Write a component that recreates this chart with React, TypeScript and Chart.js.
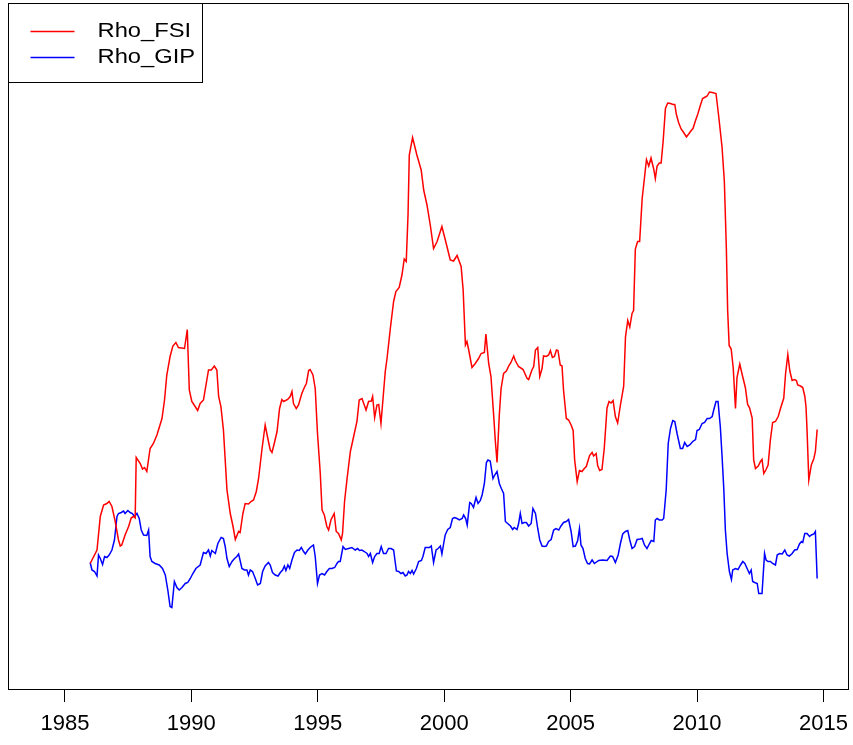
import React, { useEffect, useRef } from "react";
import { Chart, registerables } from "chart.js";

Chart.register(...registerables);

const tickYears = [1985, 1990, 1995, 2000, 2005, 2010, 2015];
const seriesNames = ["Rho_FSI", "Rho_GIP"];
const seriesColors = ["#ff0000", "#0000ff"];

const fsiYears = [
  1986.00, 1986.27, 1986.40, 1986.53, 1986.66, 1986.75, 1986.86, 1986.99, 1987.12, 1987.19,
  1987.25, 1987.38, 1987.52, 1987.62, 1987.71, 1987.78, 1987.82, 1987.98, 1988.07, 1988.15,
  1988.24, 1988.37, 1988.50, 1988.64, 1988.84, 1988.94, 1989.03, 1989.16, 1989.27, 1989.39,
  1989.49, 1989.73, 1989.84, 1989.92, 1990.02, 1990.15, 1990.25, 1990.35, 1990.48, 1990.68,
  1990.79, 1990.91, 1991.01, 1991.08, 1991.17, 1991.27, 1991.41, 1991.54, 1991.65, 1991.74,
  1991.87, 1991.93, 1992.04, 1992.13, 1992.26, 1992.36, 1992.46, 1992.57, 1992.66, 1992.79,
  1992.92, 1993.01, 1993.12, 1993.19, 1993.28, 1993.39, 1993.49, 1993.58, 1993.65, 1993.81,
  1993.91, 1993.98, 1994.04, 1994.15, 1994.24, 1994.37, 1994.47, 1994.55, 1994.64, 1994.70,
  1994.81, 1994.90, 1994.99, 1995.10, 1995.17, 1995.26, 1995.36, 1995.43, 1995.52, 1995.65,
  1995.73, 1995.82, 1995.93, 1995.98, 1996.06, 1996.16, 1996.29, 1996.42, 1996.55, 1996.64,
  1996.75, 1996.91, 1997.01, 1997.12, 1997.17, 1997.25, 1997.34, 1997.41, 1997.50, 1997.67,
  1997.74, 1997.87, 1998.00, 1998.09, 1998.22, 1998.33, 1998.42, 1998.50, 1998.57, 1998.62,
  1998.75, 1998.92, 1999.09, 1999.19, 1999.32, 1999.45, 1999.58, 1999.72, 1999.91, 2000.11,
  2000.24, 2000.37, 2000.51, 2000.67, 2000.75, 2000.84, 2000.90, 2000.97, 2001.10, 2001.23,
  2001.36, 2001.46, 2001.59, 2001.65, 2001.76, 2001.85, 2001.96, 2002.02, 2002.09, 2002.18,
  2002.25, 2002.35, 2002.46, 2002.55, 2002.64, 2002.75, 2002.81, 2002.94, 2003.12, 2003.28,
  2003.34, 2003.47, 2003.54, 2003.61, 2003.70, 2003.78, 2003.87, 2003.93, 2004.04, 2004.13,
  2004.20, 2004.28, 2004.36, 2004.44, 2004.50, 2004.59, 2004.66, 2004.72, 2004.83, 2004.92,
  2005.02, 2005.10, 2005.16, 2005.26, 2005.35, 2005.45, 2005.54, 2005.62, 2005.75, 2005.85,
  2005.91, 2006.01, 2006.07, 2006.15, 2006.24, 2006.33, 2006.44, 2006.52, 2006.60, 2006.68,
  2006.77, 2006.86, 2006.97, 2007.10, 2007.17, 2007.26, 2007.34, 2007.43, 2007.49, 2007.56,
  2007.65, 2007.73, 2007.83, 2007.92, 2008.00, 2008.09, 2008.18, 2008.29, 2008.35, 2008.42,
  2008.51, 2008.58, 2008.66, 2008.75, 2008.84, 2008.95, 2009.05, 2009.12, 2009.18, 2009.27,
  2009.37, 2009.47, 2009.58, 2009.67, 2009.77, 2009.84, 2009.94, 2010.03, 2010.13, 2010.22,
  2010.33, 2010.40, 2010.49, 2010.60, 2010.75, 2010.86, 2010.99, 2011.08, 2011.16, 2011.21,
  2011.27, 2011.35, 2011.43, 2011.52, 2011.58, 2011.69, 2011.78, 2011.91, 2012.00, 2012.08,
  2012.18, 2012.24, 2012.31, 2012.42, 2012.51, 2012.57, 2012.64, 2012.73, 2012.81, 2012.90,
  2012.99, 2013.10, 2013.21, 2013.30, 2013.43, 2013.50, 2013.59, 2013.67, 2013.76, 2013.85,
  2013.93, 2013.98, 2014.09, 2014.18, 2014.26, 2014.31, 2014.35, 2014.42, 2014.52, 2014.62,
  2014.68, 2014.75,
];
const fsiValues = [
  -0.121, -0.094, -0.027, -0.004, -0.001, 0.003, -0.007, -0.037, -0.074, -0.086,
  -0.084, -0.064, -0.047, -0.030, -0.027, -0.030, 0.091, 0.079, 0.068, 0.071,
  0.063, 0.109, 0.119, 0.136, 0.169, 0.206, 0.256, 0.293, 0.314, 0.321,
  0.311, 0.309, 0.347, 0.226, 0.203, 0.193, 0.185, 0.199, 0.206, 0.266,
  0.266, 0.274, 0.266, 0.213, 0.193, 0.146, 0.026, -0.021, -0.047, -0.073,
  -0.057, -0.059, -0.021, -0.001, -0.002, 0.003, 0.006, 0.023, 0.049, 0.106,
  0.156, 0.133, 0.106, 0.101, 0.119, 0.143, 0.189, 0.207, 0.203, 0.207,
  0.213, 0.223, 0.199, 0.189, 0.196, 0.219, 0.231, 0.239, 0.265, 0.267,
  0.256, 0.229, 0.139, 0.059, -0.014, -0.024, -0.047, -0.054, -0.034, -0.021,
  -0.057, -0.061, -0.074, -0.061, 0.003, 0.049, 0.103, 0.133, 0.163, 0.206,
  0.209, 0.186, 0.203, 0.204, 0.213, 0.171, 0.196, 0.197, 0.159, 0.263,
  0.289, 0.349, 0.403, 0.423, 0.431, 0.456, 0.488, 0.483, 0.576, 0.696,
  0.731, 0.696, 0.666, 0.626, 0.596, 0.556, 0.509, 0.523, 0.553, 0.513,
  0.486, 0.484, 0.495, 0.473, 0.426, 0.316, 0.323, 0.306, 0.271, 0.279,
  0.289, 0.299, 0.301, 0.338, 0.279, 0.253, 0.173, 0.126, 0.081, 0.176,
  0.229, 0.259, 0.264, 0.274, 0.281, 0.294, 0.285, 0.273, 0.267, 0.249,
  0.247, 0.266, 0.273, 0.306, 0.311, 0.253, 0.269, 0.294, 0.293, 0.296,
  0.305, 0.291, 0.293, 0.306, 0.305, 0.276, 0.274, 0.226, 0.169, 0.166,
  0.156, 0.145, 0.086, 0.043, 0.065, 0.063, 0.069, 0.073, 0.095, 0.101,
  0.094, 0.099, 0.075, 0.065, 0.067, 0.109, 0.190, 0.203, 0.200, 0.205,
  0.173, 0.160, 0.196, 0.234, 0.332, 0.365, 0.352, 0.379, 0.385, 0.508,
  0.523, 0.523, 0.609, 0.650, 0.687, 0.674, 0.690, 0.667, 0.649, 0.674,
  0.680, 0.680, 0.724, 0.789, 0.800, 0.799, 0.797, 0.797, 0.778, 0.761,
  0.748, 0.741, 0.732, 0.738, 0.745, 0.749, 0.765, 0.778, 0.795, 0.809,
  0.812, 0.814, 0.822, 0.821, 0.819, 0.772, 0.711, 0.643, 0.508, 0.386,
  0.315, 0.308, 0.271, 0.189, 0.251, 0.278, 0.258, 0.231, 0.197, 0.190,
  0.170, 0.086, 0.069, 0.074, 0.083, 0.087, 0.059, 0.067, 0.076, 0.126,
  0.161, 0.163, 0.173, 0.189, 0.210, 0.258, 0.297, 0.264, 0.245, 0.247,
  0.245, 0.236, 0.234, 0.231, 0.214, 0.192, 0.146, 0.046, 0.076, 0.089,
  0.103, 0.147,
];

const gipYears = [
  1986.00, 1986.07, 1986.17, 1986.27, 1986.33, 1986.40, 1986.49, 1986.57, 1986.66, 1986.75,
  1986.86, 1986.96, 1987.06, 1987.12, 1987.23, 1987.32, 1987.38, 1987.49, 1987.58, 1987.67,
  1987.75, 1987.85, 1987.94, 1988.02, 1988.11, 1988.24, 1988.31, 1988.37, 1988.44, 1988.57,
  1988.73, 1988.86, 1988.97, 1989.07, 1989.16, 1989.23, 1989.33, 1989.43, 1989.52, 1989.63,
  1989.76, 1989.86, 1989.96, 1990.05, 1990.18, 1990.35, 1990.48, 1990.58, 1990.68, 1990.75,
  1990.81, 1990.95, 1991.05, 1991.18, 1991.27, 1991.34, 1991.41, 1991.50, 1991.61, 1991.71,
  1991.80, 1991.87, 1991.93, 1992.00, 1992.10, 1992.20, 1992.26, 1992.33, 1992.42, 1992.53,
  1992.62, 1992.73, 1992.82, 1992.92, 1993.05, 1993.12, 1993.21, 1993.32, 1993.43, 1993.52,
  1993.61, 1993.68, 1993.74, 1993.82, 1993.89, 1993.98, 1994.08, 1994.18, 1994.27, 1994.35,
  1994.44, 1994.51, 1994.61, 1994.70, 1994.77, 1994.83, 1994.90, 1994.99, 1995.07, 1995.17,
  1995.27, 1995.36, 1995.46, 1995.56, 1995.67, 1995.76, 1995.82, 1995.89, 1996.00, 1996.09,
  1996.22, 1996.35, 1996.48, 1996.58, 1996.65, 1996.75, 1996.84, 1996.95, 1997.01, 1997.08,
  1997.17, 1997.25, 1997.34, 1997.43, 1997.51, 1997.60, 1997.70, 1997.80, 1997.90, 1998.00,
  1998.11, 1998.20, 1998.29, 1998.37, 1998.46, 1998.53, 1998.59, 1998.66, 1998.73, 1998.79,
  1998.90, 1998.99, 1999.10, 1999.16, 1999.25, 1999.34, 1999.42, 1999.49, 1999.58, 1999.68,
  1999.76, 1999.85, 1999.91, 1999.98, 2000.04, 2000.14, 2000.24, 2000.33, 2000.41, 2000.51,
  2000.60, 2000.71, 2000.77, 2000.85, 2000.91, 2001.01, 2001.07, 2001.16, 2001.26, 2001.34,
  2001.43, 2001.50, 2001.59, 2001.67, 2001.73, 2001.82, 2001.93, 2002.00, 2002.09, 2002.18,
  2002.26, 2002.35, 2002.42, 2002.51, 2002.62, 2002.71, 2002.77, 2002.88, 2002.94, 2003.01,
  2003.08, 2003.17, 2003.25, 2003.34, 2003.44, 2003.51, 2003.61, 2003.70, 2003.78, 2003.87,
  2003.96, 2004.04, 2004.13, 2004.23, 2004.33, 2004.42, 2004.53, 2004.62, 2004.72, 2004.83,
  2004.92, 2005.02, 2005.10, 2005.19, 2005.28, 2005.35, 2005.41, 2005.49, 2005.58, 2005.67,
  2005.75, 2005.85, 2005.94, 2006.11, 2006.27, 2006.44, 2006.57, 2006.66, 2006.77, 2006.88,
  2006.97, 2007.06, 2007.17, 2007.26, 2007.34, 2007.43, 2007.53, 2007.63, 2007.76, 2007.83,
  2007.92, 2008.02, 2008.12, 2008.19, 2008.29, 2008.35, 2008.42, 2008.51, 2008.62, 2008.68,
  2008.78, 2008.86, 2008.95, 2009.04, 2009.12, 2009.21, 2009.34, 2009.43, 2009.51, 2009.61,
  2009.71, 2009.83, 2009.94, 2010.00, 2010.09, 2010.20, 2010.30, 2010.40, 2010.49, 2010.60,
  2010.66, 2010.75, 2010.83, 2010.92, 2010.99, 2011.06, 2011.12, 2011.19, 2011.28, 2011.36,
  2011.41, 2011.52, 2011.62, 2011.72, 2011.81, 2011.89, 2011.98, 2012.07, 2012.14, 2012.20,
  2012.28, 2012.38, 2012.44, 2012.57, 2012.67, 2012.73, 2012.81, 2012.90, 2012.99, 2013.10,
  2013.17, 2013.26, 2013.37, 2013.47, 2013.56, 2013.65, 2013.76, 2013.86, 2013.96, 2014.05,
  2014.13, 2014.18, 2014.26, 2014.35, 2014.45, 2014.52, 2014.62, 2014.68, 2014.75,
];
const gipValues = [
  -0.119, -0.134, -0.137, -0.146, -0.104, -0.111, -0.123, -0.107, -0.109, -0.104,
  -0.094, -0.074, -0.027, -0.021, -0.019, -0.016, -0.021, -0.015, -0.019, -0.021,
  -0.027, -0.021, -0.031, -0.054, -0.064, -0.065, -0.054, -0.107, -0.117, -0.121,
  -0.124, -0.131, -0.144, -0.174, -0.207, -0.209, -0.157, -0.169, -0.174, -0.169,
  -0.161, -0.159, -0.151, -0.142, -0.131, -0.124, -0.099, -0.101, -0.094, -0.106,
  -0.095, -0.101, -0.081, -0.069, -0.071, -0.087, -0.111, -0.127, -0.117, -0.111,
  -0.107, -0.102, -0.115, -0.131, -0.134, -0.134, -0.144, -0.134, -0.137, -0.151,
  -0.164, -0.161, -0.137, -0.126, -0.119, -0.124, -0.139, -0.144, -0.146, -0.139,
  -0.134, -0.126, -0.135, -0.124, -0.131, -0.114, -0.099, -0.094, -0.095, -0.089,
  -0.097, -0.102, -0.094, -0.089, -0.086, -0.084, -0.107, -0.161, -0.144, -0.141,
  -0.144, -0.137, -0.131, -0.131, -0.129, -0.121, -0.117, -0.117, -0.087, -0.093,
  -0.091, -0.089, -0.094, -0.091, -0.095, -0.094, -0.097, -0.101, -0.107, -0.101,
  -0.119, -0.107, -0.101, -0.101, -0.087, -0.101, -0.101, -0.091, -0.091, -0.094,
  -0.136, -0.137, -0.141, -0.139, -0.146, -0.144, -0.137, -0.141, -0.135, -0.142,
  -0.131, -0.117, -0.115, -0.107, -0.089, -0.089, -0.089, -0.086, -0.119, -0.094,
  -0.091, -0.086, -0.102, -0.081, -0.064, -0.053, -0.049, -0.031, -0.029, -0.031,
  -0.034, -0.031, -0.024, -0.031, -0.044, 0.001, -0.001, -0.009, 0.011, -0.001,
  0.005, 0.016, 0.039, 0.081, 0.086, 0.084, 0.049, 0.056, 0.063, 0.039,
  0.029, 0.019, -0.037, -0.041, -0.046, -0.053, -0.049, -0.053, -0.042, -0.021,
  -0.041, -0.039, -0.039, -0.046, -0.041, -0.011, -0.021, -0.051, -0.074, -0.086,
  -0.087, -0.086, -0.077, -0.073, -0.054, -0.051, -0.054, -0.046, -0.039, -0.037,
  -0.033, -0.057, -0.087, -0.086, -0.075, -0.051, -0.084, -0.091, -0.111, -0.121,
  -0.122, -0.114, -0.121, -0.115, -0.114, -0.115, -0.106, -0.107, -0.119, -0.104,
  -0.081, -0.062, -0.057, -0.055, -0.074, -0.091, -0.087, -0.073, -0.072, -0.071,
  -0.084, -0.091, -0.081, -0.075, -0.077, -0.034, -0.031, -0.034, -0.034, -0.031,
  0.026, 0.119, 0.149, 0.165, 0.163, 0.139, 0.109, 0.109, 0.121, 0.113,
  0.116, 0.123, 0.127, 0.145, 0.147, 0.159, 0.161, 0.169, 0.169, 0.173,
  0.186, 0.203, 0.203, 0.153, 0.093, 0.026, -0.054, -0.101, -0.137, -0.153,
  -0.134, -0.131, -0.133, -0.124, -0.117, -0.121, -0.131, -0.141, -0.134, -0.157,
  -0.159, -0.161, -0.181, -0.181, -0.101, -0.114, -0.117, -0.117, -0.121, -0.124,
  -0.104, -0.101, -0.102, -0.094, -0.104, -0.106, -0.101, -0.094, -0.093, -0.082,
  -0.077, -0.079, -0.061, -0.061, -0.067, -0.064, -0.062, -0.057, -0.151,
];

const yMin = -0.372;
const yMax = 1.0;
const xMin = 1982.75;
const xMax = 2015.97;

const FONT = "'Liberation Sans', Arial, Helvetica, sans-serif";

const boxPlugin = {
  id: "rbox",
  afterDraw(chart: any) {
    const { ctx, chartArea } = chart;
    ctx.save();
    ctx.strokeStyle = "#000";
    ctx.lineWidth = 1;
    ctx.strokeRect(
      Math.round(chartArea.left) + 0.5,
      Math.round(chartArea.top) + 0.5,
      Math.round(chartArea.right - chartArea.left),
      Math.round(chartArea.bottom - chartArea.top)
    );
    // legend box
    const lx = Math.round(chartArea.left) + 0.5;
    const ly = Math.round(chartArea.top) + 0.5;
    const lw = 194;
    const lh = 79;
    ctx.fillStyle = "#fff";
    ctx.fillRect(lx, ly, lw, lh);
    ctx.strokeRect(lx, ly, lw, lh);
    const rows = [28, 54];
    chart.data.datasets.forEach((ds: any, i: number) => {
      const y = ly + rows[i];
      ctx.strokeStyle = ds.borderColor;
      ctx.lineWidth = 1.5;
      ctx.beginPath();
      ctx.moveTo(lx + 22, y);
      ctx.lineTo(lx + 66, y);
      ctx.stroke();
      ctx.fillStyle = "#000";
      ctx.font = `21px ${FONT}`;
      ctx.textBaseline = "middle";
      ctx.textAlign = "left";
      ctx.save();
      ctx.translate(lx + 89, y);
      ctx.scale(1.13, 1);
      ctx.fillText(ds.label, 0, 0);
      ctx.restore();
    });
    ctx.restore();
  },
};

export default function App() {
  const ref = useRef<HTMLCanvasElement | null>(null);
  useEffect(() => {
    if (!ref.current) return;
    const fsi = fsiYears.map((x, i) => ({ x, y: fsiValues[i] }));
    const gip = gipYears.map((x, i) => ({ x, y: gipValues[i] }));
    const chart = new Chart(ref.current, {
      type: "line",
      data: {
        datasets: [
          {
            label: seriesNames[0],
            data: fsi,
            borderColor: seriesColors[0],
            borderWidth: 1.5,
            pointRadius: 0,
            tension: 0,
            fill: false,
          },
          {
            label: seriesNames[1],
            data: gip,
            borderColor: seriesColors[1],
            borderWidth: 1.5,
            pointRadius: 0,
            tension: 0,
            fill: false,
          },
        ],
      },
      options: {
        animation: false,
        responsive: false,
        devicePixelRatio: 1,
        layout: { padding: { left: 8, right: 5, top: 3, bottom: 0 } },
        plugins: { legend: { display: false }, tooltip: { enabled: false } },
        scales: {
          x: {
            type: "linear",
            min: xMin,
            max: xMax,
            afterBuildTicks: (scale: any) => {
              scale.ticks = tickYears.map((v) => ({ value: v }));
            },
            afterFit: (scale: any) => {
              scale.height = 56;
              scale.paddingLeft = 0;
              scale.paddingRight = 0;
            },
            grid: {
              drawOnChartArea: false,
              drawTicks: true,
              tickLength: 13,
              color: "#000",
              lineWidth: 1,
            },
            border: { display: false },
            ticks: {
              color: "#000",
              font: { family: FONT, size: 22 },
              padding: 9,
              maxRotation: 0,
              autoSkip: false,
              callback: (v: any) => String(v),
            },
          },
          y: {
            type: "linear",
            min: yMin,
            max: yMax,
            display: false,
          },
        },
      },
      plugins: [boxPlugin],
    });
    return () => chart.destroy();
  }, []);
  return (
    <canvas
      ref={ref}
      width={853}
      height={745}
      style={{ position: "fixed", left: 0, top: 0, width: 853, height: 745, background: "#fff" }}
    />
  );
}
